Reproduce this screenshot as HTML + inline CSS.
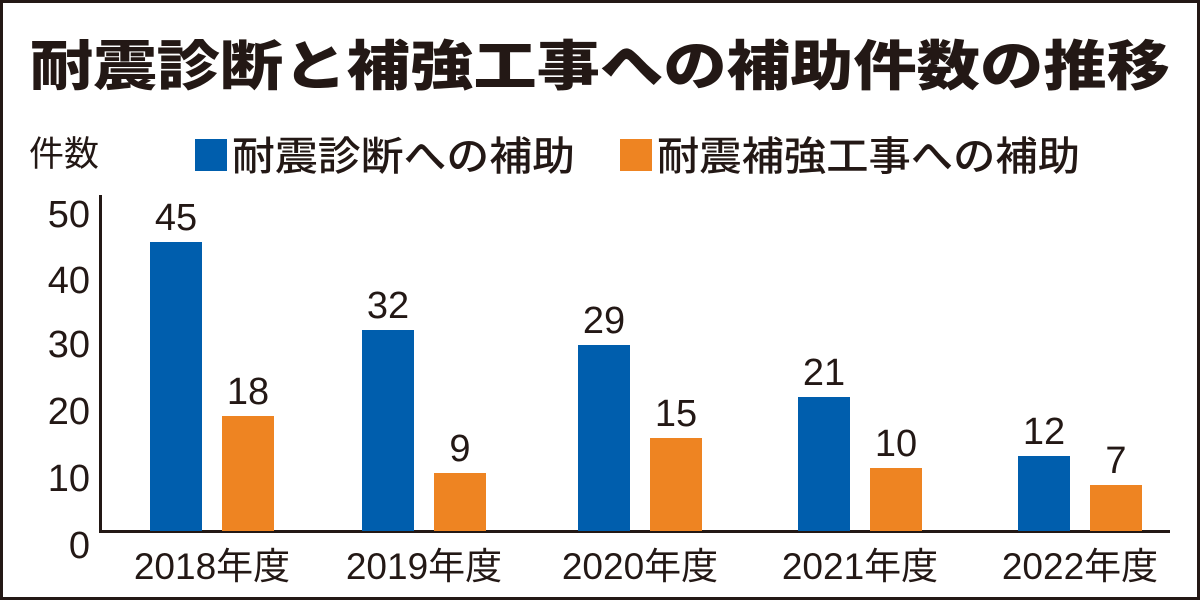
<!DOCTYPE html>
<html><head><meta charset="utf-8"><style>
body{margin:0;width:1200px;height:601px;overflow:hidden;background:#fff}
svg text{font-family:"Liberation Sans","Noto Sans CJK JP",sans-serif;fill:#231815}
</style></head><body>
<svg width="1200" height="601" viewBox="0 0 1200 601">
<rect x="1.5" y="1.5" width="1197" height="597" fill="#fff" stroke="#231815" stroke-width="3"/>
<text x="600" y="85" text-anchor="middle" font-size="54" font-weight="900" style="font-family:'Noto Sans CJK JP',sans-serif" textLength="1140" lengthAdjust="spacingAndGlyphs">耐震診断と補強工事への補助件数の推移</text>
<text x="29" y="166" font-size="35" style="font-family:'Noto Sans CJK JP',sans-serif">件数</text>
<rect x="195" y="139" width="32" height="32" fill="#005ead"/>
<text x="232" y="170" font-size="40" font-weight="500" style="font-family:'Noto Sans CJK JP',sans-serif" textLength="343" lengthAdjust="spacingAndGlyphs">耐震診断への補助</text>
<rect x="620" y="139" width="32" height="32" fill="#ee8422"/>
<text x="657" y="170" font-size="40" font-weight="500" style="font-family:'Noto Sans CJK JP',sans-serif" textLength="423" lengthAdjust="spacingAndGlyphs">耐震補強工事への補助</text>
<path d="M100.5 195V531.5H1170" fill="none" stroke="#231815" stroke-width="3"/>
<g font-size="38" text-anchor="end">
<text x="90" y="227">50</text><text x="90" y="293">40</text><text x="90" y="357">30</text>
<text x="90" y="424">20</text><text x="90" y="491">10</text><text x="90" y="558">0</text>
</g>
<g fill="#005ead">
<rect x="150" y="242" width="52" height="289"/>
<rect x="362" y="330" width="52" height="201"/>
<rect x="578" y="345" width="52" height="186"/>
<rect x="798" y="397" width="52" height="134"/>
<rect x="1018" y="456" width="52" height="75"/>
</g>
<g fill="#ee8422">
<rect x="222" y="416" width="52" height="115"/>
<rect x="434" y="473" width="52" height="58"/>
<rect x="650" y="438" width="52" height="93"/>
<rect x="870" y="468" width="52" height="63"/>
<rect x="1090" y="485" width="52" height="46"/>
</g>
<g font-size="38" text-anchor="middle">
<text x="176" y="230">45</text><text x="248" y="404">18</text>
<text x="388" y="318">32</text><text x="460" y="461">9</text>
<text x="604" y="333">29</text><text x="676" y="426">15</text>
<text x="824" y="385">21</text><text x="896" y="456">10</text>
<text x="1044" y="444">12</text><text x="1116" y="473">7</text>
</g>
<g font-size="37" text-anchor="middle">
<text x="212" y="579">2018年度</text><text x="424" y="579">2019年度</text>
<text x="640" y="579">2020年度</text><text x="860" y="579">2021年度</text>
<text x="1080" y="579">2022年度</text>
</g>
</svg>
</body></html>
